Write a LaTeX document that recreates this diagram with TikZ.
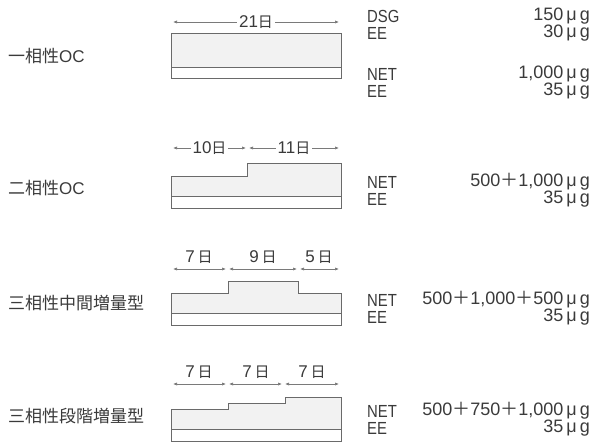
\documentclass[tikz,border=0pt]{standalone}
\usepackage{fontspec}
\setmainfont{Liberation Sans}
\newfontfamily\jp{Noto Sans CJK JP}
\newfontfamily\narrowlat[FakeStretch=0.85]{Liberation Sans}
\usetikzlibrary{arrows.meta}
\definecolor{ink}{HTML}{3A3A3A}
\definecolor{edge}{HTML}{6A6A6A}
\definecolor{dimc}{HTML}{7A7A7A}
\definecolor{pill}{HTML}{F2F2F2}
\newcommand\nichi{{\jp\fontsize{15}{15}\selectfont 日}}
\newcommand\ug{\,μ\,g}
\newcommand\pls{{\jp ＋}}
\tikzset{
  dim/.style={draw=dimc, line width=0.7pt, {Latex[length=4pt,width=3.2pt]}-{Latex[length=4pt,width=3.2pt]}},
  dlab/.style={font=\fontsize{17}{17}\selectfont, text=ink, inner sep=2pt},
  pillbox/.style={draw=edge, line width=1pt, fill=pill},
  stripbox/.style={draw=edge, line width=1pt, fill=white},
  drugname/.style={font=\narrowlat\fontsize{17.5}{18}\selectfont, text=ink, anchor=west, inner sep=0pt},
  drugval/.style={font=\fontsize{18}{18}\selectfont, text=ink, anchor=east, inner sep=0pt},
  catlab/.style={font=\fontsize{17}{18}\selectfont, text=ink, anchor=west, inner sep=0pt},
}
\begin{document}
\begin{tikzpicture}[x=1pt,y=-1pt]
\useasboundingbox (0,0) rectangle (601,443);
% ---------- panel 1 ----------
\node[catlab] (c1) at (8,56) {{\jp 一相性}OC};
\coordinate (p1a) at (173,22); \coordinate (p1b) at (339,22);
\draw[dim] (p1a) -- (p1b) node[midway, fill=white, dlab] (l1) {21\nichi};
\path[pillbox] (171,34) rectangle (341,79);
\path[stripbox] (171,68) rectangle (341,79);
\node[drugname] (n1a) at (367,16) {DSG};
\node[drugval] (v1a) at (590,16) {150\ug};
\node[drugname] (n1b) at (367,33) {EE};
\node[drugval] (v1b) at (590,33) {30\ug};
\node[drugname] (n1c) at (367,74) {NET};
\node[drugval] (v1c) at (590,74) {1,000\ug};
\node[drugname] (n1d) at (367,91) {EE};
\node[drugval] (v1d) at (590,91) {35\ug};
% ---------- panel 2 ----------
\node[catlab] (c2) at (8,188) {{\jp 二相性}OC};
\coordinate (p2a) at (173,148); \coordinate (p2b) at (246,148);
\coordinate (p2c) at (249,148); \coordinate (p2d) at (339,148);
\draw[dim] (p2a) -- (p2b) node[midway, fill=white, dlab] (l2a) {10\nichi};
\draw[dim] (p2c) -- (p2d) node[midway, fill=white, dlab] (l2b) {11\nichi};
\path[pillbox] (171,209) -- (171,177) -- (247,177) -- (247,164) -- (341,164) -- (341,209) -- cycle;
\path[stripbox] (171,197) rectangle (341,209);
\node[drugname] (n2a) at (367,182) {NET};
\node[drugval] (v2a) at (590,182) {500\pls 1,000\ug};
\node[drugname] (n2b) at (367,199) {EE};
\node[drugval] (v2b) at (590,199) {35\ug};
% ---------- panel 3 ----------
\node[catlab] (c3) at (8,303) {{\jp 三相性中間増量型}};
\coordinate (p3a) at (173,269); \coordinate (p3b) at (226,269);
\coordinate (p3c) at (229,269); \coordinate (p3d) at (297,269);
\coordinate (p3e) at (300,269); \coordinate (p3f) at (339,269);
\draw[dim] (p3a) -- (p3b);
\draw[dim] (p3c) -- (p3d);
\draw[dim] (p3e) -- (p3f);
\node[dlab] (l3a) at (199,257) {7\,\nichi};
\node[dlab] (l3b) at (263,257) {9\,\nichi};
\node[dlab] (l3c) at (319,257) {5\,\nichi};
\path[pillbox] (171,325) -- (171,293) -- (228,293) -- (228,281) -- (298,281) -- (298,293) -- (341,293) -- (341,325) -- cycle;
\path[stripbox] (171,313) rectangle (341,325);
\node[drugname] (n3a) at (367,300) {NET};
\node[drugval] (v3a) at (590,300) {500\pls 1,000\pls 500\ug};
\node[drugname] (n3b) at (367,317) {EE};
\node[drugval] (v3b) at (590,317) {35\ug};
% ---------- panel 4 ----------
\node[catlab] (c4) at (8,416) {{\jp 三相性段階増量型}};
\coordinate (p4a) at (173,384); \coordinate (p4b) at (226,384);
\coordinate (p4c) at (229,384); \coordinate (p4d) at (282,384);
\coordinate (p4e) at (285,384); \coordinate (p4f) at (339,384);
\draw[dim] (p4a) -- (p4b);
\draw[dim] (p4c) -- (p4d);
\draw[dim] (p4e) -- (p4f);
\node[dlab] (l4a) at (199,372) {7\,\nichi};
\node[dlab] (l4b) at (256,372) {7\,\nichi};
\node[dlab] (l4c) at (312,372) {7\,\nichi};
\path[pillbox] (171,441) -- (171,409) -- (228,409) -- (228,403) -- (285,403) -- (285,397) -- (341,397) -- (341,441) -- cycle;
\path[stripbox] (171,429) rectangle (341,441);
\node[drugname] (n4a) at (367,411) {NET};
\node[drugval] (v4a) at (590,411) {500\pls 750\pls 1,000\ug};
\node[drugname] (n4b) at (367,428) {EE};
\node[drugval] (v4b) at (590,428) {35\ug};
\end{tikzpicture}
\end{document}
